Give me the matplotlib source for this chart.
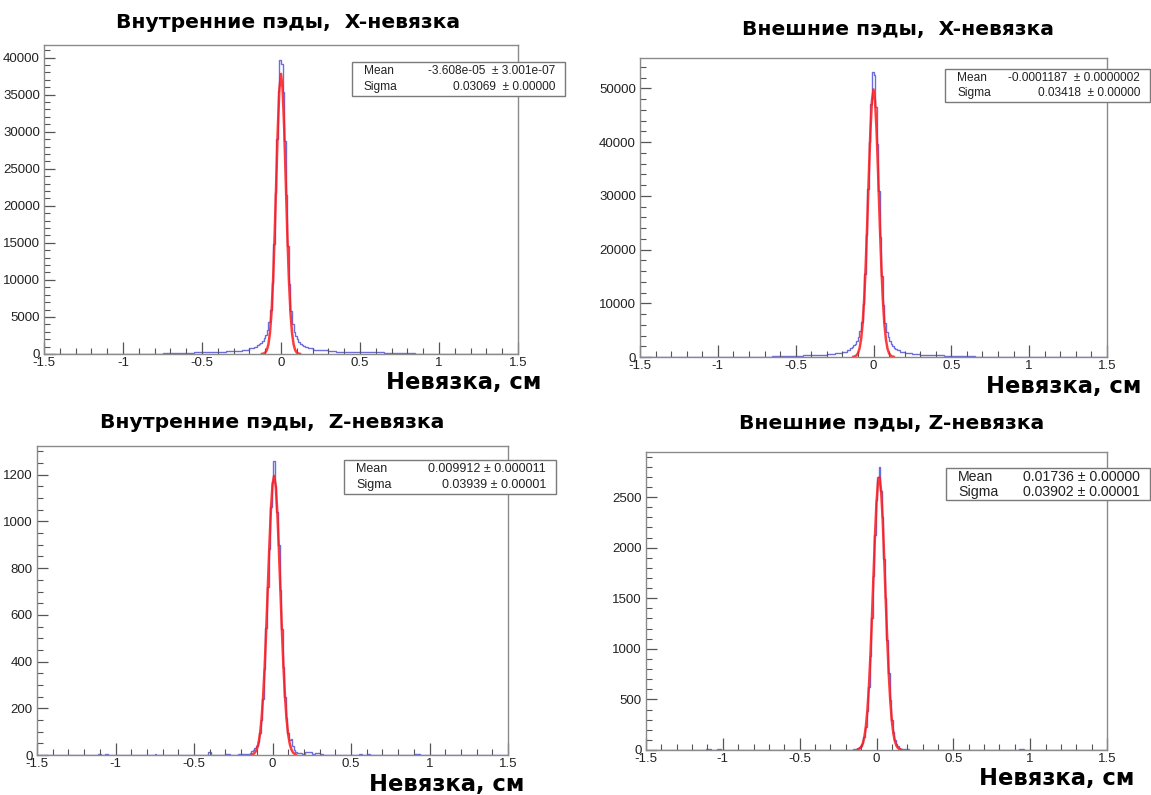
import numpy as np
import matplotlib.pyplot as plt
from matplotlib.patches import Rectangle
from matplotlib.ticker import MultipleLocator, FuncFormatter

plt.rcParams["axes.unicode_minus"] = False

# -----------------------------
# Data
# -----------------------------
titles = [
    "Внутренние пэды,  X-невязка",
    "Внешние пэды,  X-невязка",
    "Внутренние пэды,  Z-невязка",
    "Внешние пэды, Z-невязка",
]
xlabel = "Невязка, см"

stat_mean = ["-3.608e-05  ± 3.001e-07", "-0.0001187  ± 0.0000002",
             "0.009912 ± 0.000011", "0.01736 ± 0.00000"]
stat_sigma = ["0.03069  ± 0.00000", "0.03418  ± 0.00000",
              "0.03939 ± 0.00001", "0.03902 ± 0.00001"]

# inner pads, X residual
p1_left_edges = [-1.5, -0.75, -0.65, -0.55, -0.45, -0.35, -0.30, -0.25, -0.20, -0.17, -0.15]
p1_left_counts = [0, 130, 170, 220, 290, 380, 460, 580, 800, 1000]
p1_core_lo = -0.15
p1_core_counts = [1150, 1300, 1500, 1750, 2100, 2600, 3200, 4300, 6000, 9600,
                  14900, 21700, 29000, 35500, 39700, 39200, 35300, 28700, 21400, 14600,
                  9400, 5800, 4100, 3000, 2400, 2000, 1650, 1400, 1200, 1100]
p1_right_edges = [0.15, 0.17, 0.20, 0.25, 0.30, 0.35, 0.45, 0.55, 0.65, 0.75, 0.85, 1.5]
p1_right_counts = [950, 780, 600, 480, 410, 330, 260, 210, 170, 130, 0]
p1_fit_lo = -0.12
p1_fit = [18, 61, 187, 513, 1265, 2800, 5590, 10030, 16170, 23440, 30570, 35850, 37800,
          35850, 30570, 23440, 16170, 10030, 5590, 2800, 1265, 513, 187, 61, 18]

# outer pads, X residual
p2_left_edges = [-1.5, -0.80, -0.65, -0.55, -0.45, -0.35, -0.30, -0.25, -0.20, -0.17, -0.15]
p2_left_counts = [0, 80, 140, 220, 300, 400, 520, 700, 950, 1250]
p2_core_lo = -0.15
p2_core_counts = [1600, 1850, 2150, 2500, 3000, 3700, 4800, 6600, 9900, 15400,
                  22700, 31300, 40000, 47000, 53000, 52400, 46600, 39600, 30900, 22300,
                  15100, 9700, 6400, 4700, 3700, 3000, 2450, 2050, 1750, 1500]
p2_right_edges = [0.15, 0.17, 0.20, 0.25, 0.30, 0.35, 0.45, 0.55, 0.65, 0.80, 1.5]
p2_right_counts = [1300, 1000, 750, 560, 450, 330, 230, 150, 80, 0]
p2_fit_lo = -0.13
p2_fit = [36, 105, 281, 690, 1556, 3220, 6120, 10670, 17090, 25110, 33880, 41970, 47710, 49800,
          47710, 41970, 33880, 25110, 17090, 10670, 6120, 3220, 1556, 690, 281, 105, 36]

# inner pads, Z residual
p3_left_edges = [-1.5, -1.11, -1.09, -1.07, -1.05, -0.75, -0.74, -0.41, -0.39, -0.30,
                 -0.27, -0.22, -0.20, -0.18, -0.155]
p3_left_counts = [0, 4, 0, 5, 0, 3, 0, 12, 0, 4, 0, 6, 3, 5]
p3_core_lo = -0.155
p3_core_counts = [3, 8, 15, 20, 30, 38, 55, 95, 150, 240,
                  370, 545, 720, 880, 1060, 1170, 1260, 1150, 1040, 900,
                  705, 540, 375, 250, 160, 95, 65, 70, 40, 22, 12, 8]
p3_right_edges = [0.165, 0.19, 0.21, 0.25, 0.27, 0.30, 0.32, 0.55, 0.57, 0.60,
                  0.62, 0.90, 0.92, 0.94, 1.5]
p3_right_counts = [10, 5, 12, 6, 9, 4, 0, 5, 0, 4, 0, 4, 3, 0]
p3_fit_lo = -0.13
p3_fit = [2, 5, 12, 24, 48, 88, 153, 248, 376, 536, 715, 896, 1052, 1158, 1195,
          1156, 1049, 892, 712, 532, 373, 245, 151, 87, 47, 24, 11, 5, 2]

# outer pads, Z residual
p4_left_edges = [-1.5, -1.11, -1.08, -1.04, -1.01, -0.20, -0.155]
p4_left_counts = [0, 6, 0, 5, 0, 4]
p4_core_lo = -0.155
p4_core_counts = [5, 8, 12, 18, 25, 40, 70, 130, 230, 385,
                  620, 930, 1300, 1720, 2120, 2470, 2700, 2800, 2560, 2300,
                  1890, 1500, 1090, 760, 490, 300, 180, 100, 60, 35, 20, 12, 8, 5]
p4_right_edges = [0.185, 0.21, 0.23, 0.93, 0.96, 1.0, 1.03, 1.5]
p4_right_counts = [6, 3, 0, 5, 0, 4, 0]
p4_fit_lo = -0.12
p4_fit = [5, 13, 29, 61, 120, 220, 378, 609, 916, 1293, 1707, 2112, 2446, 2653, 2694,
          2562, 2282, 1903, 1486, 1087, 744, 477, 287, 161, 85, 42, 19, 8, 3]

BIN = 0.01


def build_hist(left_edges, left_counts, core_lo, core_counts, right_edges, right_counts):
    core_edges = np.round(core_lo + BIN * np.arange(len(core_counts) + 1), 4)
    edges = list(left_edges) + list(core_edges[1:-1]) + list(right_edges)
    counts = list(left_counts) + list(core_counts) + list(right_counts)
    return np.array(edges), np.array(counts)


hists = [
    build_hist(p1_left_edges, p1_left_counts, p1_core_lo, p1_core_counts, p1_right_edges, p1_right_counts),
    build_hist(p2_left_edges, p2_left_counts, p2_core_lo, p2_core_counts, p2_right_edges, p2_right_counts),
    build_hist(p3_left_edges, p3_left_counts, p3_core_lo, p3_core_counts, p3_right_edges, p3_right_counts),
    build_hist(p4_left_edges, p4_left_counts, p4_core_lo, p4_core_counts, p4_right_edges, p4_right_counts),
]
fits = [(p1_fit_lo, p1_fit), (p2_fit_lo, p2_fit), (p3_fit_lo, p3_fit), (p4_fit_lo, p4_fit)]

# -----------------------------
# Layout (pixels of the 1151x795 picture)
# -----------------------------
W, H = 1151, 795

panels = [
    dict(frame=(44, 518, 45, 354), ymax=41700, ymaj=5000, ymin=1000,
         title=(288, 23), label=(541, 382), box=(352, 565, 62, 96), sfs=8.6),
    dict(frame=(640, 1107, 58, 357), ymax=55650, ymaj=10000, ymin=2000,
         title=(898, 30), label=(1141, 387), box=(945, 1150, 69, 102), sfs=8.6),
    dict(frame=(37, 508, 446, 755), ymax=1323, ymaj=200, ymin=50,
         title=(272, 423), label=(524, 785), box=(344, 556, 460, 494), sfs=9.0),
    dict(frame=(646, 1107, 452, 750), ymax=2945, ymaj=500, ymin=100,
         title=(892, 423), label=(1134, 778), box=(946, 1150, 468, 500), sfs=10.2),
]

fig = plt.figure(figsize=(W / 100, H / 100), dpi=100)
fig.patch.set_facecolor("white")


def fx(x):
    return x / W


def fy(y):
    return 1 - y / H


FRAME = "#8a8a8a"
TICK_FONT = "Liberation Sans"

for i, p in enumerate(panels):
    l, r, t, b = p["frame"]
    ax = fig.add_axes([fx(l), fy(b), (r - l) / W, (b - t) / H])
    edges, counts = hists[i]
    ax.stairs(counts, edges, color="#3b3bd0", lw=1.0, alpha=0.75)

    lo, fvals = fits[i]
    fit_x = lo + BIN * np.arange(len(fvals))
    ax.plot(fit_x, fvals, color="#ff1a1a", lw=1.8, alpha=0.85)

    ax.set_xlim(-1.5, 1.5)
    ax.set_ylim(0, p["ymax"])

    for s in ax.spines.values():
        s.set_color(FRAME)
        s.set_linewidth(1.0)

    ax.xaxis.set_major_locator(MultipleLocator(0.5))
    ax.xaxis.set_minor_locator(MultipleLocator(0.1))
    ax.yaxis.set_major_locator(MultipleLocator(p["ymaj"]))
    ax.yaxis.set_minor_locator(MultipleLocator(p["ymin"]))
    ax.xaxis.set_major_formatter(FuncFormatter(lambda v, pos: "%g" % round(v, 3)))
    ax.yaxis.set_major_formatter(FuncFormatter(lambda v, pos: "%d" % round(v)))
    ax.tick_params(which="major", direction="in", length=9, width=0.9, color="#555555",
                   labelsize=9.5, labelcolor="#222222", pad=2)
    ax.tick_params(which="minor", direction="in", length=4.5, width=0.8, color="#555555")
    ax.tick_params(axis="y", which="major", length=8, pad=3)
    for lab in ax.get_xticklabels() + ax.get_yticklabels():
        lab.set_fontfamily(TICK_FONT)

    # title
    tx, ty = p["title"]
    fig.text(fx(tx), fy(ty), titles[i], ha="center", va="center", fontsize=14.6,
             fontweight="bold", family="DejaVu Sans", color="black")

    # axis label
    lx, ly = p["label"]
    fig.text(fx(lx), fy(ly), xlabel, ha="right", va="center", fontsize=16.3,
             fontweight="bold", family="DejaVu Sans", color="black")

    # stats box
    bl, br, bt, bb = p["box"]
    fig.add_artist(Rectangle((fx(bl), fy(bb)), (br - bl) / W, (bb - bt) / H,
                             transform=fig.transFigure, facecolor="white",
                             edgecolor="#7a7a7a", lw=1.0, zorder=5))
    row1 = bt + (bb - bt) * 0.27
    row2 = bt + (bb - bt) * 0.74
    for row, name, val in [(row1, "Mean", stat_mean[i]), (row2, "Sigma", stat_sigma[i])]:
        fig.text(fx(bl + 12), fy(row), name, ha="left", va="center", fontsize=p["sfs"],
                 family=TICK_FONT, color="#222222", zorder=6)
        fig.text(fx(br - 10), fy(row), val, ha="right", va="center", fontsize=p["sfs"],
                 family=TICK_FONT, color="#222222", zorder=6)

fig.savefig("out.png", dpi=100)
